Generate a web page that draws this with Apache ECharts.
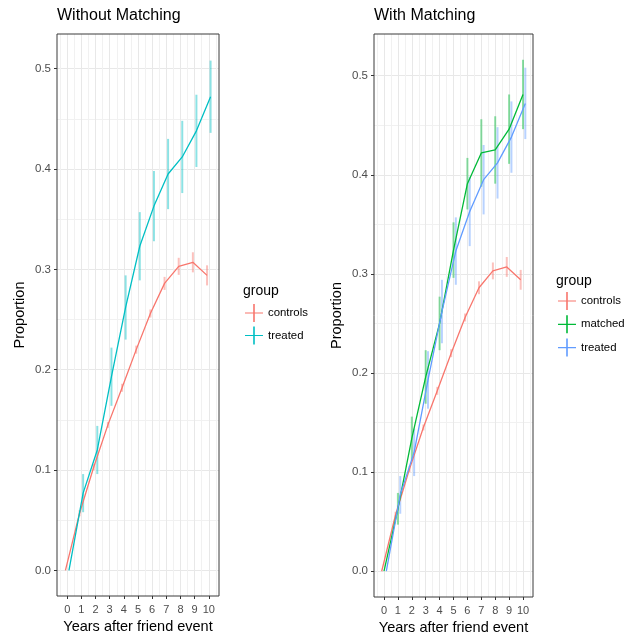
<!DOCTYPE html>
<html>
<head>
<meta charset="utf-8">
<script src="https://cdn.jsdelivr.net/npm/echarts@6/dist/echarts.min.js"></script>
<style>html,body{margin:0;padding:0;background:#fff;}#c{width:627px;height:639px;}</style>
</head>
<body>
<div id="c"></div>
<script>
// ---- data ----
const years = [0, 1, 2, 3, 4, 5, 6, 7, 8, 9, 10];
const controls = [0, 0.057, 0.103, 0.145, 0.182, 0.220, 0.256, 0.286, 0.303, 0.307, 0.294];
const controlsErr = [0, 0.003, 0.003, 0.003, 0.004, 0.004, 0.004, 0.0065, 0.0085, 0.010, 0.010];
const treated = [0, 0.077, 0.120, 0.193, 0.262, 0.323, 0.363, 0.395, 0.412, 0.438, 0.472];
const treatedErr = [0, 0.019, 0.024, 0.029, 0.032, 0.034, 0.035, 0.035, 0.036, 0.036, 0.036];
const matched = [0, 0.063, 0.134, 0.196, 0.250, 0.324, 0.391, 0.422, 0.425, 0.446, 0.481];
const matchedErr = [0, 0.016, 0.022, 0.027, 0.027, 0.028, 0.026, 0.034, 0.034, 0.035, 0.035];
const yTicks = [0, 0.1, 0.2, 0.3, 0.4, 0.5];
const yMinor = [0.05, 0.15, 0.25, 0.35, 0.45];
const xTicks = years;
const xMinor = [-0.5].concat(years.map(v => v + 0.5));

// ---- styling / layout ----
const FONT = 'Liberation Sans, Arial, Helvetica, sans-serif';
const RED = '#F8766D', TEAL = '#00BFC4', GREEN = '#00BA38', BLUE = '#619CFF';
const PLUS = 'path://M0,8.5L18,8.5L18,9.6L0,9.6Z M8.2,0L9.8,0L9.8,18L8.2,18Z';

function lineData(vals, off) { return years.map((x, i) => [x + off, vals[i]]); }
function errData(vals, errs, off) { return years.map((x, i) => [x + off, vals[i] - errs[i], vals[i] + errs[i]]); }

function lineSeries(name, vals, off, color, gi) {
  return {
    type: 'line', name: name, xAxisIndex: gi * 2, yAxisIndex: gi * 2,
    data: lineData(vals, off), symbol: 'none', smooth: false,
    lineStyle: { color: color, width: 1.3 }, itemStyle: { color: color },
    z: 3, animation: false
  };
}
function errSeries(vals, errs, off, color, gi) {
  return {
    type: 'custom', xAxisIndex: gi * 2, yAxisIndex: gi * 2,
    data: errData(vals, errs, off), encode: { x: 0, y: [1, 2] },
    renderItem: function (params, api) {
      const x = api.value(0);
      const p1 = api.coord([x, api.value(1)]);
      const p2 = api.coord([x, api.value(2)]);
      return { type: 'line', shape: { x1: p1[0], y1: p1[1], x2: p2[0], y2: p2[1] },
        style: { stroke: color, lineWidth: 2, opacity: 0.45 } };
    },
    z: 2, animation: false
  };
}

function xAxes(gi) {
  return [{
    gridIndex: gi, type: 'value', min: -0.72, max: 10.72,
    axisLine: { show: false, onZero: false },
    axisTick: { show: true, length: 3, customValues: xTicks, lineStyle: { color: '#333', width: 1 } },
    axisLabel: { customValues: xTicks, fontSize: 11, color: '#4D4D4D', margin: 8, fontFamily: FONT },
    splitLine: { show: true, lineStyle: { color: '#E8E8E8', width: 1 } },
    name: 'Years after friend event', nameLocation: 'middle', nameGap: 20,
    nameTextStyle: { fontSize: 14.5, color: '#000', fontFamily: FONT }
  }, {
    gridIndex: gi, type: 'value', min: -0.72, max: 10.72,
    axisLine: { show: false, onZero: false }, axisLabel: { show: false },
    axisTick: { show: false, customValues: xMinor },
    splitLine: { show: true, lineStyle: { color: '#F1F1F1', width: 1 } }
  }];
}
function yAxes(gi, mn, mx) {
  return [{
    gridIndex: gi, type: 'value', min: mn, max: mx,
    axisLine: { show: false, onZero: false },
    axisTick: { show: true, length: 3, customValues: yTicks, lineStyle: { color: '#333', width: 1 } },
    axisLabel: { customValues: yTicks, fontSize: 11.5, color: '#4D4D4D', margin: 6, fontFamily: FONT,
      formatter: v => Number(v).toFixed(1) },
    splitLine: { show: true, lineStyle: { color: '#E8E8E8', width: 1 } },
    name: 'Proportion', nameLocation: 'middle', nameGap: 30,
    nameTextStyle: { fontSize: 14.5, color: '#000', fontFamily: FONT }
  }, {
    gridIndex: gi, type: 'value', min: mn, max: mx,
    axisLine: { show: false, onZero: false }, axisLabel: { show: false },
    axisTick: { show: false, customValues: yMinor },
    splitLine: { show: true, lineStyle: { color: '#F1F1F1', width: 1 } }
  }];
}

const chart = echarts.init(document.getElementById('c'), null, { renderer: 'canvas' });
const ttl = (text, left, top, size) => ({ text: text, left: left, top: top, padding: 0,
  textStyle: { fontSize: size, fontWeight: 'normal', color: '#000', fontFamily: FONT } });

chart.setOption({
  animation: false,
  backgroundColor: '#fff',
  textStyle: { fontFamily: FONT },
  title: [
    ttl('Without Matching', 57, 8, 16),
    ttl('With Matching', 374, 8, 16),
    ttl('group', 243, 284, 14),
    ttl('group', 556, 274, 14)
  ],
  grid: [
    { left: 57, top: 34, width: 162, height: 562, show: true, z: 10, borderColor: '#3a3a3a', borderWidth: 1,
      backgroundColor: 'transparent', containLabel: false, outerBoundsMode: 'none' },
    { left: 374, top: 34, width: 159, height: 563, show: true, z: 10, borderColor: '#3a3a3a', borderWidth: 1,
      backgroundColor: 'transparent', containLabel: false, outerBoundsMode: 'none' }
  ],
  xAxis: xAxes(0).concat(xAxes(1)),
  yAxis: yAxes(0, -0.0255, 0.5345).concat(yAxes(1, -0.026, 0.542)),
  legend: [
    { orient: 'vertical', left: 245, top: 304, padding: 0, itemWidth: 18, itemHeight: 18, itemGap: 4.5,
      icon: PLUS, selectedMode: false, textStyle: { fontSize: 11.4, color: '#000', fontFamily: FONT },
      data: [{ name: 'controls', itemStyle: { color: RED } }, { name: 'treated', itemStyle: { color: TEAL } }] },
    { orient: 'vertical', left: 558, top: 292, padding: 0, itemWidth: 18, itemHeight: 18, itemGap: 5.3,
      icon: PLUS, selectedMode: false, textStyle: { fontSize: 11.4, color: '#000', fontFamily: FONT },
      data: [{ name: 'controls', itemStyle: { color: RED } }, { name: 'matched', itemStyle: { color: GREEN } },
             { name: 'treated', itemStyle: { color: BLUE } }] }
  ],
  series: [
    errSeries(controls, controlsErr, -0.125, RED, 0),
    errSeries(treated, treatedErr, 0.125, TEAL, 0),
    lineSeries('controls', controls, -0.125, RED, 0),
    lineSeries('treated', treated, 0.125, TEAL, 0),
    errSeries(controls, controlsErr, -0.167, RED, 1),
    errSeries(matched, matchedErr, 0, GREEN, 1),
    errSeries(treated, treatedErr, 0.167, BLUE, 1),
    lineSeries('controls', controls, -0.167, RED, 1),
    lineSeries('matched', matched, 0, GREEN, 1),
    lineSeries('treated', treated, 0.167, BLUE, 1)
  ]
});
</script>
</body>
</html>
